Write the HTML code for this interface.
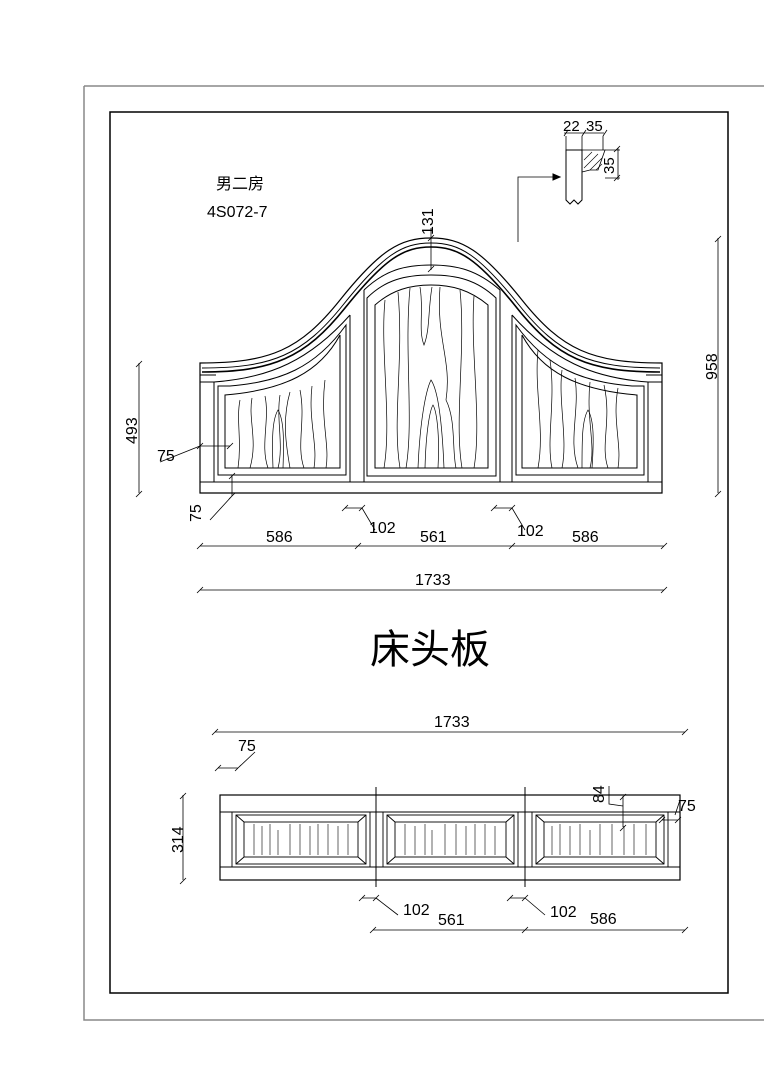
<!DOCTYPE html>
<html><head><meta charset="utf-8"><style>
html,body{margin:0;padding:0;background:#fff;width:764px;height:1080px;overflow:hidden}
svg{display:block}
text{font-family:"Liberation Sans","Noto Sans CJK SC",sans-serif;fill:#000}
</style></head><body>
<svg width="764" height="1080" viewBox="0 0 764 1080" xmlns="http://www.w3.org/2000/svg">
<g fill="none" stroke="#000" stroke-width="1">
<path d="M84 86H764M84 86V1020H764" stroke="#888" stroke-width="1.5"/>
<rect x="110" y="112" width="618" height="881" stroke-width="1.5"/>

<path d="M566 150V200l4 4 4-4 4 4 4-4V150Z"/>
<path d="M582 150H605L598 170H590L582 172Z" stroke-width="0.8"/>
<path d="M584 160l8-8M584 168l14-14M590 170l12-12M596 170l6-6" stroke-width="0.6"/>
<path d="M564 133H604M564 136l4-6M582 136l4-6M603 136l4-6M566 136V150M582 136V150M603 136V150" stroke-width="0.8"/>
<path d="M618 148V180M614 152l6-6M614 181l6-6M605 150H620M605 178H620" stroke-width="0.8"/>
<path d="M518 242V177H560" stroke-width="0.8"/>
<path d="M553 174l7 3-7 3z" fill="#000"/>

<path d="M200 363C270 363 300 350 340 300C380 250 400 238 431 238C462 238 482 250 522 300C562 350 592 363 662 363V493H200Z" stroke-width="1.2"/>
<path d="M202 368C272 368 303 355 343 305C383 255 402 243 431 243C460 243 479 255 519 305C559 355 590 368 660 368" />
<path d="M202 372C272 372 305 358 345 308C385 258 404 247 431 247C458 247 477 258 517 308C557 358 588 372 660 372" stroke-width="1.6"/>
<path d="M200 375H216M646 375H662"/>
<path d="M200 382H214C270 378 310 360 350 315M512 315C552 360 592 378 648 382H662"/>
<path d="M200 482H662"/>
<path d="M350 315V482M364 290V482M500 290V482M512 315V482"/>
<path d="M214 382V482M218 386H230C280 382 315 368 346 325V475H218Z"/>
<path d="M225 395C285 390 320 372 340 335V468H225Z"/>
<path d="M648 382V482M644 386H632C582 382 547 368 516 325V475H644Z"/>
<path d="M637 395C577 390 542 372 522 335V468H637Z"/>
<path d="M364 290C385 270 405 265 431 265C457 265 477 270 500 290"/>
<path d="M367 298C385 280 405 275 431 275C457 275 477 280 496 298V476H367Z"/>
<path d="M375 305C392 290 410 285 431 285C452 285 470 290 488 305V468H375Z"/>
<g stroke-width="0.7">
<path d="M240 400C236 420 242 440 238 468M252 398C248 420 258 440 250 468M265 396C270 420 260 445 268 468M280 395C276 420 284 445 278 468M290 392C282 420 286 445 290 468M300 390C306 420 296 445 304 468M312 386C308 420 318 445 314 468M325 380C320 420 330 445 326 468"/>
<path d="M273 468C272 440 272 420 278 410C284 420 284 440 283 468"/>
<path d="M538 350C534 390 545 430 538 468M550 360C556 400 546 440 552 468M562 370C558 400 568 440 562 468M575 378C580 410 568 440 578 468M590 382C586 420 596 445 590 468M604 385C612 420 600 445 608 468M618 388C612 420 622 445 618 468"/>
<path d="M582 468C582 440 582 420 588 410C594 420 594 440 592 468"/>
<path d="M385 300C380 350 392 420 384 468M398 292C404 360 392 420 400 468M410 288C404 350 414 420 406 468M420 287C424 310 418 330 424 345C430 330 428 310 432 287M418 468C420 420 426 390 431 380C438 390 442 420 444 468M425 468C426 430 430 410 433 405C436 410 440 430 438 468M440 287C436 340 452 360 446 400C456 420 452 450 456 468M460 290C466 350 454 420 462 468M474 296C470 350 482 420 474 468"/>
</g>

<g stroke-width="0.8">
<path d="M139 363V493M136 367l6-6M136 497l6-6"/>
<path d="M431 228V270M428 241l6-6M428 272l6-6"/>
<path d="M718 238V493M715 242l6-6M715 497l6-6"/>
<path d="M200 446H230M197 449l6-6M227 449l6-6M200 446L160 462"/>
<path d="M232 475V496M229 479l6-6M229 499l6-6M232 496L210 520"/>
<path d="M200 546H664M197 549l6-6M355 549l6-6M509 549l6-6M661 549l6-6"/>
<path d="M345 508H362M342 511l6-6M359 511l6-6M362 508L375 530"/>
<path d="M494 508H512M491 511l6-6M509 511l6-6M512 508L525 530"/>
<path d="M200 590H664M197 593l6-6M661 593l6-6"/>
</g>

<rect x="220" y="795" width="460" height="85" stroke-width="1.2"/>
<path d="M220 812H680M220 867H680M376 787V887M525 787V887"/>
<g stroke-width="0.9">
<rect x="232" y="812" width="138" height="55"/><rect x="236" y="815" width="130" height="49"/><rect x="244" y="822" width="114" height="35"/>
<path d="M236 815l8 7M366 815l-8 7M236 864l8-7M366 864l-8-7"/>
<rect x="383" y="812" width="135" height="55"/><rect x="387" y="815" width="127" height="49"/><rect x="395" y="822" width="111" height="35"/>
<path d="M387 815l8 7M514 815l-8 7M387 864l8-7M514 864l-8-7"/>
<rect x="532" y="812" width="136" height="55"/><rect x="536" y="815" width="128" height="49"/><rect x="544" y="822" width="112" height="35"/>
<path d="M536 815l8 7M664 815l-8 7M536 864l8-7M664 864l-8-7"/>
</g>
<g stroke-width="0.6">
<path d="M254 824V855M262 826V855M270 824V855M278 830V855M290 824V855M300 824V855M310 826V855M318 824V855M328 824V855M338 826V855M348 824V855"/>
<path d="M405 824V855M415 826V855M425 824V855M432 830V855M445 824V855M456 824V855M466 826V855M475 824V855M485 824V855M495 826V855"/>
<path d="M552 826V855M560 824V855M570 826V855M580 824V855M590 830V855M600 824V855M612 824V855M624 826V855M634 824V855M646 824V855"/>
</g>
<g stroke-width="0.8">
<path d="M215 732H685M212 735l6-6M682 735l6-6"/>
<path d="M218 768H238M215 771l6-6M235 771l6-6M238 768L255 752"/>
<path d="M183 795V880M180 799l6-6M180 884l6-6"/>
<path d="M623 796V827M620 800l6-6M620 831l6-6M609 786V804L623 806"/>
<path d="M662 820H678M659 823l6-6M675 823l6-6M675 815L680 800"/>
<path d="M362 898H376M359 901l6-6M373 901l6-6M376 898L398 915"/>
<path d="M510 898H525M507 901l6-6M522 901l6-6M525 898L545 915"/>
<path d="M373 930H685M370 933l6-6M522 933l6-6M682 933l6-6"/>
</g>
</g>

<g font-size="16">
<text x="216" y="189">男二房</text>
<text x="207" y="217">4S072-7</text>
<text x="563" y="131" font-size="15">22</text><text x="586" y="131" font-size="15">35</text>
<text transform="translate(614 174) rotate(-90)" font-size="15">35</text>
<text transform="translate(433 235) rotate(-90)">131</text>
<text transform="translate(137 444) rotate(-90)">493</text>
<text transform="translate(717 380) rotate(-90)">958</text>
<text x="157" y="461">75</text>
<text transform="translate(201 522) rotate(-90)">75</text>
<text x="266" y="542">586</text>
<text x="369" y="533">102</text>
<text x="420" y="542">561</text>
<text x="517" y="536">102</text>
<text x="572" y="542">586</text>
<text x="415" y="585">1733</text>
<text x="370" y="663" font-size="40">床头板</text>
<text x="434" y="727">1733</text>
<text x="238" y="751">75</text>
<text transform="translate(183 853) rotate(-90)">314</text>
<text transform="translate(604 803) rotate(-90)">84</text>
<text x="678" y="811">75</text>
<text x="403" y="915">102</text>
<text x="438" y="925">561</text>
<text x="550" y="917">102</text>
<text x="590" y="924">586</text>
</g>
</svg>
</body></html>
